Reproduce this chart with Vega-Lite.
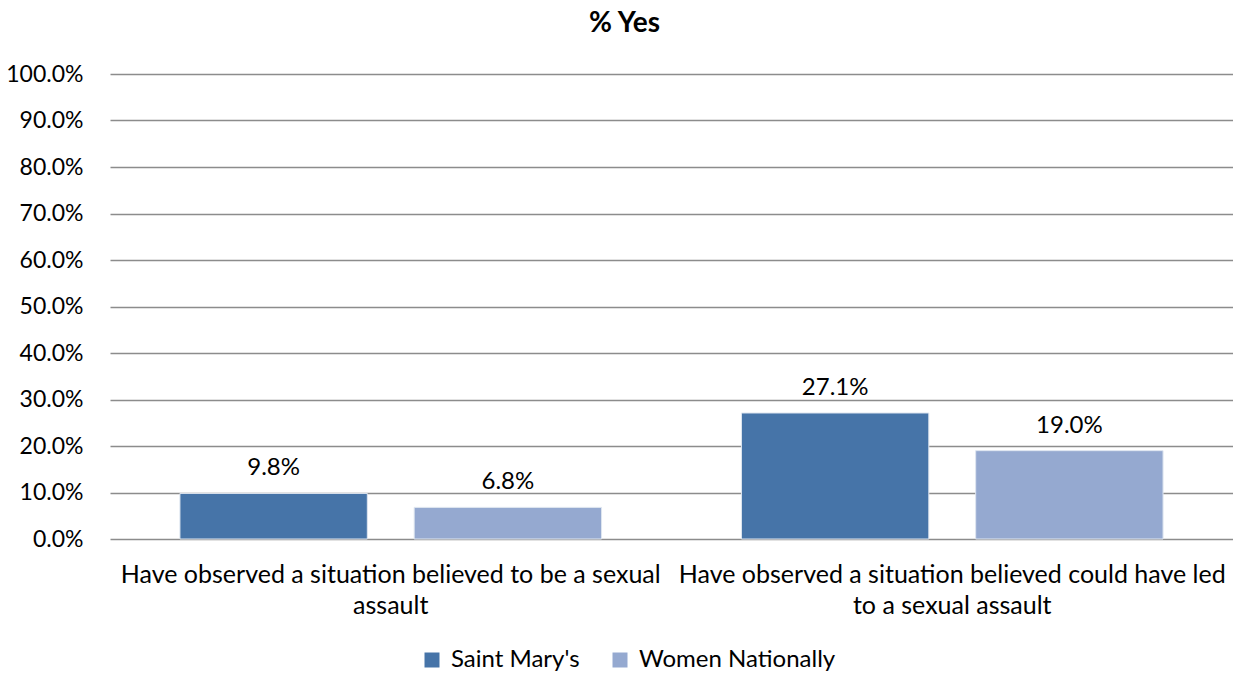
{
  "$schema": "https://vega.github.io/schema/vega-lite/v6.json",
  "width": 1123,
  "height": 465,
  "autosize": {"type": "none"},
  "padding": {"left": 110, "top": 74, "right": 0, "bottom": 138},
  "background": "white",
  "config": {
    "font": "Lato",
    "view": {"stroke": null},
    "axis": {"labelFont": "Lato", "labelColor": "#000000"}
  },
  "title": {
    "text": "% Yes",
    "fontSize": 28,
    "fontWeight": "bold",
    "font": "Lato",
    "color": "#000000",
    "anchor": "middle",
    "frame": "group",
    "dx": -47,
    "offset": 25
  },
  "data": {
    "values": [
      {"category": "Have observed a situation believed to be a sexual assault", "series": "Saint Mary's", "value": 0.098},
      {"category": "Have observed a situation believed to be a sexual assault", "series": "Women Nationally", "value": 0.068},
      {"category": "Have observed a situation believed could have led to a sexual assault", "series": "Saint Mary's", "value": 0.271},
      {"category": "Have observed a situation believed could have led to a sexual assault", "series": "Women Nationally", "value": 0.19}
    ]
  },
  "encoding": {
    "x": {
      "field": "category",
      "type": "nominal",
      "sort": null,
      "scale": {"paddingInner": 0, "paddingOuter": 0},
      "axis": {
        "title": null,
        "labelAngle": 0,
        "labelFontSize": 25,
        "labelPadding": 23,
        "labelLineHeight": 31,
        "labelLimit": 0,
        "ticks": false,
        "domain": false,
        "labelExpr": "datum.label == 'Have observed a situation believed to be a sexual assault' ? ['Have observed a situation believed to be a sexual', 'assault'] : ['Have observed a situation believed could have led', 'to a sexual assault']"
      }
    },
    "xOffset": {
      "field": "series",
      "type": "nominal",
      "scale": {"paddingInner": 0.2, "paddingOuter": 0.2986}
    },
    "y": {
      "field": "value",
      "type": "quantitative",
      "scale": {"domain": [0, 1]},
      "axis": {
        "title": null,
        "format": ".1%",
        "values": [0, 0.1, 0.2, 0.3, 0.4, 0.5, 0.6, 0.7, 0.8, 0.9, 1.0],
        "labelOverlap": false,
        "labelFontSize": 23,
        "labelPadding": 27,
        "ticks": false,
        "domain": false,
        "grid": true,
        "gridColor": "#8c8c8c",
        "gridWidth": 1.5
      }
    }
  },
  "layer": [
    {
      "mark": {"type": "bar", "stroke": "#dfe6f0", "strokeWidth": 1},
      "encoding": {
        "color": {
          "field": "series",
          "type": "nominal",
          "scale": {"domain": ["Saint Mary's", "Women Nationally"], "range": ["#4674A8", "#95A9D0"]},
          "legend": {
            "title": null,
            "orient": "none",
            "direction": "horizontal",
            "legendX": 310,
            "legendY": 574,
            "symbolType": "square",
            "symbolSize": 225,
            "symbolStrokeWidth": 0,
            "labelFontSize": 24,
            "labelFont": "Lato",
            "labelColor": "#000000",
            "labelLimit": 0,
            "columnPadding": 28,
            "labelOffset": 7
          }
        }
      }
    },
    {
      "mark": {"type": "text", "baseline": "bottom", "dy": -13, "fontSize": 24, "color": "#000000", "font": "Lato"},
      "encoding": {
        "text": {"field": "value", "type": "quantitative", "format": ".1%"}
      }
    }
  ]
}
